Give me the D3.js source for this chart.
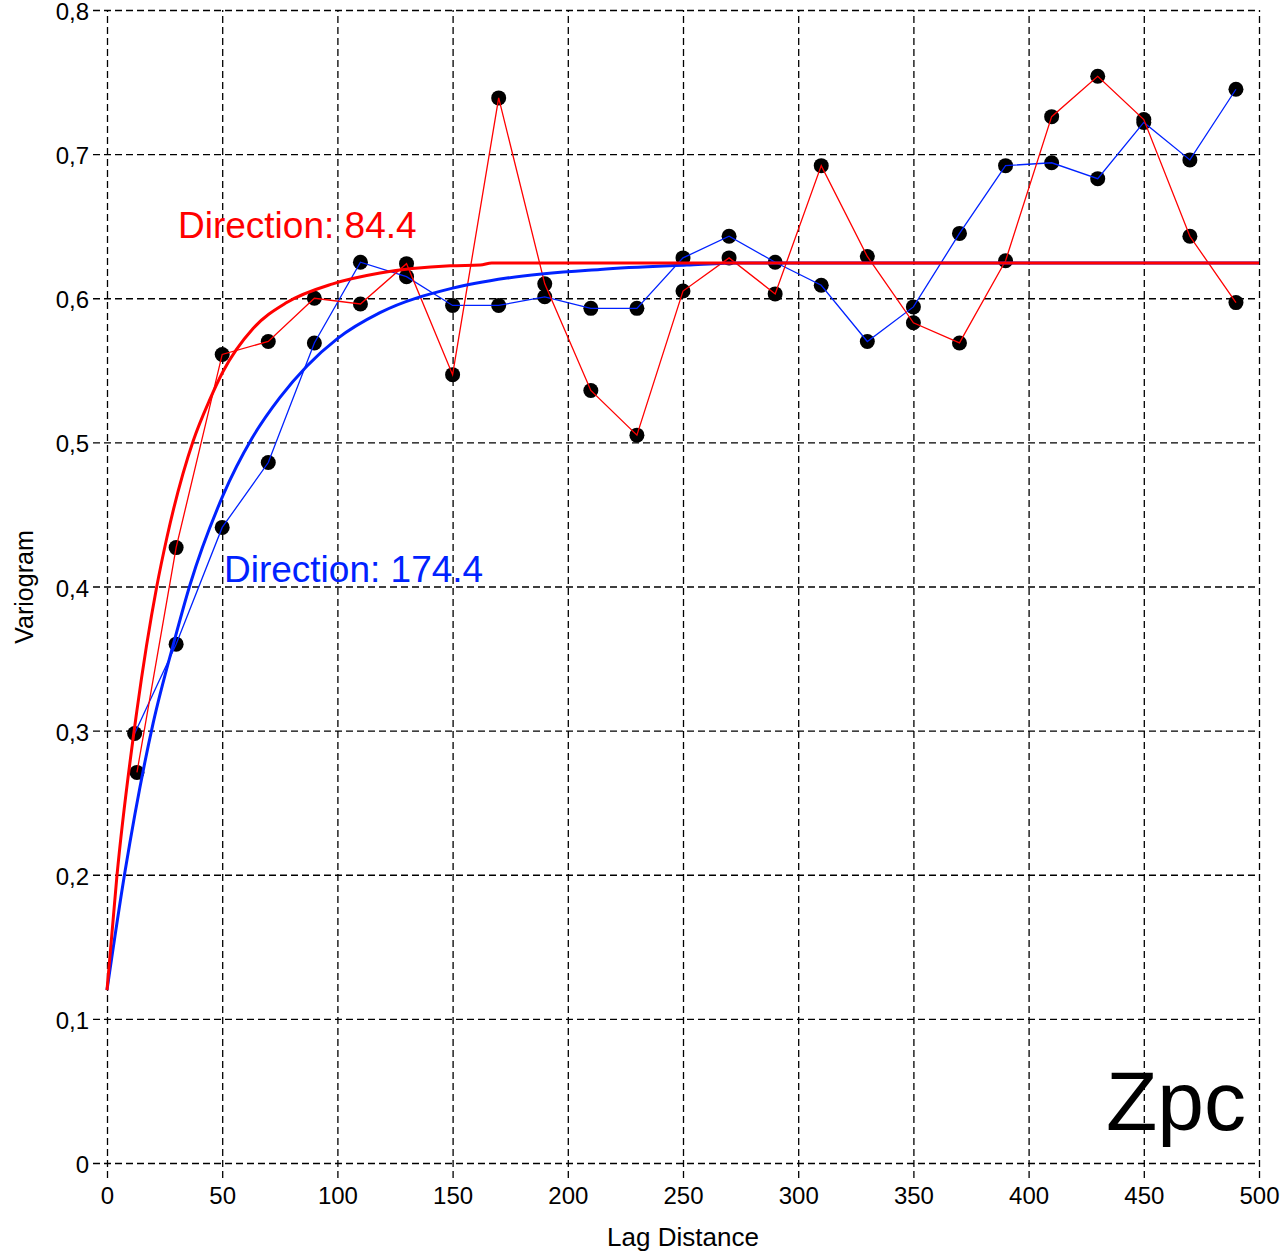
<!DOCTYPE html>
<html>
<head>
<meta charset="utf-8">
<script src="https://cdn.jsdelivr.net/npm/d3@7"></script>
<style>
  body { margin: 0; background: #fff; }
  svg { display: block; font-family: "Liberation Sans", Arial, sans-serif; }
</style>
</head>
<body>
<div id="chart"></div>
<script>
// experimental variogram points, two directions
const lagRed = [13, 30, 50, 70, 90, 110, 130, 150, 170, 190, 210, 230, 250, 270, 290, 310, 330, 350, 370, 390, 410, 430, 450, 470, 490];
const gammaRed = [0.271, 0.427, 0.561, 0.570, 0.600, 0.596, 0.624, 0.547, 0.739, 0.610, 0.536, 0.505, 0.605, 0.628, 0.603, 0.692, 0.629, 0.583, 0.569, 0.626, 0.726, 0.754, 0.724, 0.643, 0.597];
const lagBlue = [12, 30, 50, 70, 90, 110, 130, 150, 170, 190, 210, 230, 250, 270, 290, 310, 330, 350, 370, 390, 410, 430, 450, 470, 490];
const gammaBlue = [0.298, 0.360, 0.441, 0.486, 0.569, 0.625, 0.615, 0.595, 0.595, 0.601, 0.593, 0.593, 0.628, 0.643, 0.625, 0.609, 0.570, 0.594, 0.645, 0.692, 0.694, 0.683, 0.722, 0.696, 0.745];

// fitted model curves
const modelRedX = [0, 4.3, 12.9, 21.6, 26, 37.4, 44.7, 50.3, 63.4, 78, 98, 118.5, 149, 162, 167, 300, 500];
const modelRedY = [0.120, 0.199, 0.313, 0.400, 0.434, 0.501, 0.530, 0.549, 0.579, 0.597, 0.610, 0.6175, 0.6225, 0.623, 0.6245, 0.6245, 0.6245];
const modelBlueX = [0, 7.8, 20, 29.5, 36, 50.3, 63, 75, 86.8, 100, 118.5, 150, 173.6, 214, 251.7, 275, 400, 500];
const modelBlueY = [0.120, 0.202, 0.305, 0.364, 0.401, 0.463, 0.503, 0.531, 0.553, 0.572, 0.590, 0.607, 0.614, 0.620, 0.623, 0.6245, 0.6245, 0.6245];

const xTicks = [0, 50, 100, 150, 200, 250, 300, 350, 400, 450, 500];
const yTicks = [0, 0.1, 0.2, 0.3, 0.4, 0.5, 0.6, 0.7, 0.8];

const W = 1280, H = 1253;
const margin = { top: 10, right: 21, bottom: 90, left: 107 };
const width = W - margin.left - margin.right;
const height = H - margin.top - margin.bottom;

const svg = d3.select('#chart').append('svg')
  .attr('width', W)
  .attr('height', H);

svg.append('rect').attr('width', W).attr('height', H).attr('fill', '#fff');

const g = svg.append('g')
  .attr('transform', `translate(${margin.left},${margin.top})`);

const x = d3.scaleLinear().domain([0, 500]).range([0, width]);
const y = d3.scaleLinear().domain([0, 0.8]).range([height, 0]);

const fmtY = v => d3.format('.1f')(v).replace('.', ',');

// y grid + labels
const yAxis = g.append('g')
  .attr('transform', 'translate(-14,0)')
  .call(d3.axisLeft(y).tickValues(yTicks).tickFormat(v => v === 0 ? '0' : fmtY(v))
    .tickSize(-(width + 14)).tickSizeOuter(0).tickPadding(4));

// x grid + labels
const xAxis = g.append('g')
  .attr('transform', `translate(0,${height + 15})`)
  .call(d3.axisBottom(x).tickValues(xTicks).tickFormat(d3.format('d'))
    .tickSize(-(height + 15)).tickSizeOuter(0).tickPadding(9));

[xAxis, yAxis].forEach(a => {
  a.select('.domain').remove();
  a.selectAll('.tick line')
    .attr('stroke', '#000')
    .attr('stroke-width', 1.3)
    .attr('stroke-dasharray', '7,4');
  a.selectAll('.tick text')
    .attr('fill', '#000')
    .style('font-size', '24px')
    .style('font-family', '"Liberation Sans", Arial, sans-serif');
});
yAxis.selectAll('.tick text').attr('dy', '0.4em');

const redPts = lagRed.map((d, i) => [d, gammaRed[i]]);
const bluePts = lagBlue.map((d, i) => [d, gammaBlue[i]]);

// markers
g.selectAll('.dot')
  .data(redPts.concat(bluePts))
  .enter().append('circle')
  .attr('cx', d => x(d[0]))
  .attr('cy', d => y(d[1]))
  .attr('r', 7.5)
  .attr('fill', '#000');

const line = d3.line().x(d => x(d[0])).y(d => y(d[1]));

g.append('path').datum(bluePts)
  .attr('d', line).attr('fill', 'none')
  .attr('stroke', '#0022ff').attr('stroke-width', 1.3);
g.append('path').datum(redPts)
  .attr('d', line).attr('fill', 'none')
  .attr('stroke', '#ff0000').attr('stroke-width', 1.3);

const smooth = d3.line().x(d => x(d[0])).y(d => y(d[1])).curve(d3.curveMonotoneX);

g.append('path').datum(modelBlueX.map((d, i) => [d, modelBlueY[i]]))
  .attr('d', smooth).attr('fill', 'none')
  .attr('stroke', '#0022ff').attr('stroke-width', 3);
g.append('path').datum(modelRedX.map((d, i) => [d, modelRedY[i]]))
  .attr('d', smooth).attr('fill', 'none')
  .attr('stroke', '#ff0000').attr('stroke-width', 3);

// annotations
svg.append('text')
  .attr('x', 178).attr('y', 238)
  .attr('fill', '#ff0000')
  .style('font-size', '37px')
  .text('Direction: 84.4');

svg.append('text')
  .attr('x', 224).attr('y', 582)
  .attr('fill', '#0022ff')
  .style('font-size', '37px')
  .text('Direction: 174.4');

svg.append('text')
  .attr('x', 1246).attr('y', 1130)
  .attr('text-anchor', 'end')
  .attr('fill', '#000')
  .style('font-size', '84px')
  .text('Zpc');

// axis titles
svg.append('text')
  .attr('x', margin.left + width / 2).attr('y', 1246)
  .attr('text-anchor', 'middle')
  .style('font-size', '26px')
  .text('Lag Distance');

svg.append('text')
  .attr('transform', 'translate(33,587) rotate(-90)')
  .attr('text-anchor', 'middle')
  .style('font-size', '25px')
  .text('Variogram');
</script>
</body>
</html>
